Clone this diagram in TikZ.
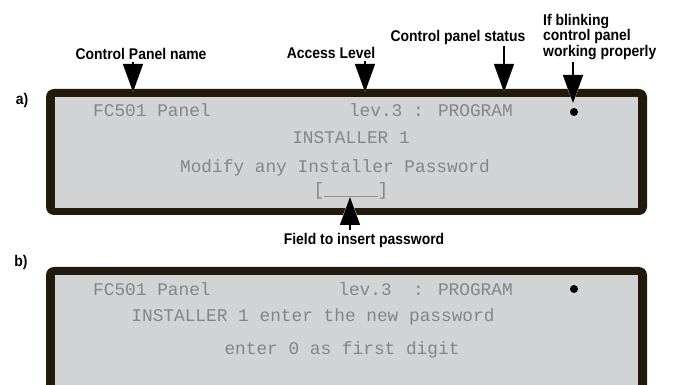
\documentclass[tikz,border=0pt]{standalone}
\usepackage{fontspec}
\setmainfont{Liberation Sans}
\newfontfamily\notefont{Liberation Sans}[FakeStretch=0.9]
\newfontfamily\lcdfont{Liberation Mono}
\usetikzlibrary{arrows.meta}
\definecolor{frame}{HTML}{231A0C}
\definecolor{lcd}{HTML}{D1D3D4}
\definecolor{lcdtext}{HTML}{858585}

\begin{document}
\begin{tikzpicture}[x=1pt, y=-1pt,
    notetext/.style={font=\fontsize{15.5}{15.5}\selectfont\notefont\bfseries, inner sep=0pt},
    lcdline/.style={font=\fontsize{17.8}{20}\selectfont\lcdfont, text=lcdtext, inner sep=0pt},
    blink/.style={circle, fill=black, inner sep=0pt, minimum size=8pt},
    pointer/.style={line width=1.3pt, -{Triangle[width=20pt,length=28pt]},
      preaction={draw=white, line width=3pt, -{Triangle[width=24pt,length=32pt]}}}]
    \useasboundingbox (0,0) rectangle (673,385);
    \clip (0,0) rectangle (673,385);
    % Panel a
    \fill[frame, rounded corners=8] (46,89) rectangle (647,215);
    \fill[lcd] (55,97) rectangle (638,208);
    \node[notetext] (alabel) at (22,100) {a)};
    \node[lcdline, anchor=base west] (aname) at (93,117) {FC501 Panel};
    \node[lcdline, anchor=base east] (astatus) at (513,117) {lev.3 : PROGRAM};
    \node[blink] (adot) at (574,112) {};
    \node[lcdline, anchor=base] (auser) at (351,144) {INSTALLER 1};
    \node[lcdline, anchor=base] (amodify) at (335,173) {Modify any Installer Password};
    \node[lcdline, anchor=base] (afield) at (351,196) {[\_\_\_\_\_]};
    % Panel b
    \fill[frame, rounded corners=8] (46,267) rectangle (647,420);
    \fill[lcd] (55,275) rectangle (638,420);
    \node[notetext] (blabel) at (21,262) {b)};
    \node[lcdline, anchor=base west] (bname) at (93,295) {FC501 Panel};
    \node[lcdline, anchor=base east] (bstatus) at (513,295) {lev.3\ \ : PROGRAM};
    \node[blink] (bdot) at (574,289) {};
    \node[lcdline, anchor=base] (buser) at (313,322) {INSTALLER 1 enter the new password};
    \node[lcdline, anchor=base] (bhint) at (342,354) {enter 0 as first digit};
    % Callouts
    \node[notetext] (namelbl) at (141,54) {Control Panel name};
    \node[notetext] (levellbl) at (331,53) {Access Level};
    \node[notetext] (statuslbl) at (458,37) {Control panel status};
    \node[notetext, align=left, anchor=west] (blinklbl) at (543,37) {If blinking\\control panel\\working properly};
    \node[notetext] (fieldlbl) at (364,240) {Field to insert password};
    \coordinate (nametip) at (133,92);
    \coordinate (leveltip) at (365,92);
    \coordinate (statustip) at (504,92);
    \coordinate (blinktip) at (573,103);
    \coordinate (fieldtip) at (350,197);
    \draw[pointer, shorten <=2pt] (namelbl.south -| nametip) -- (nametip);
    \draw[pointer, shorten <=2pt] (levellbl.south -| leveltip) -- (leveltip);
    \draw[pointer, shorten <=2pt] (statuslbl.south -| statustip) -- (statustip);
    \draw[pointer, shorten <=2pt] (blinklbl.south -| blinktip) -- (blinktip);
    \draw[pointer, shorten <=3pt] (fieldlbl.north -| fieldtip) -- (fieldtip);
\end{tikzpicture}
\end{document}
